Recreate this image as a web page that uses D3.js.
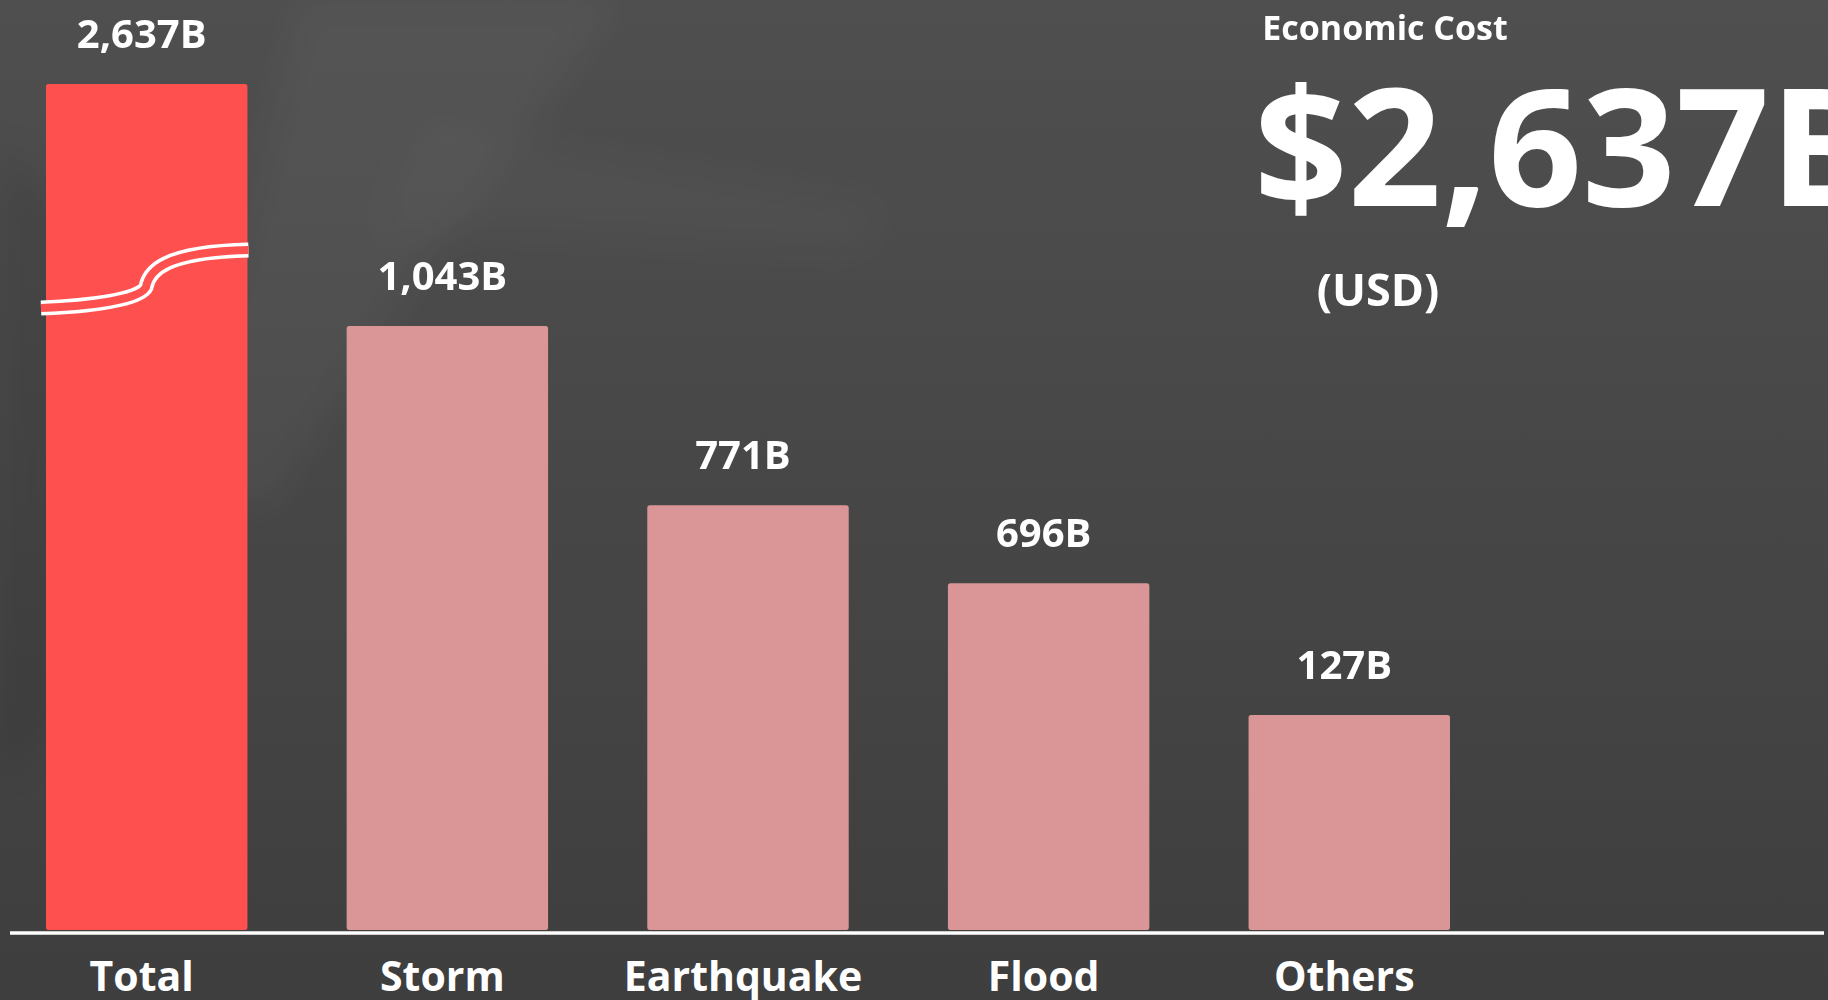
<!DOCTYPE html>
<html>
<head>
<meta charset="utf-8">
<script src="https://cdn.jsdelivr.net/npm/d3@7"></script>
<style>
  html, body { margin: 0; padding: 0; background: #444; overflow: hidden; }
  svg { display: block; }
  text { font-family: "Open Sans", "Noto Sans", sans-serif; fill: #ffffff; }
</style>
</head>
<body>
<svg id="chart" width="1828" height="1000"></svg>
<script>
// ---- data ----
const categories = ["Total", "Storm", "Earthquake", "Flood", "Others"];
const values = [2637, 1043, 771, 696, 127];            // billion USD (label values)
const barLengths = [100, 71.4, 50.2, 41.0, 25.4];      // drawn bar length, % of axis height (Total bar is broken)
const titleText = "Economic Cost";
const unitText = "(USD)";
const headlineValue = values[0];

// ---- layout ----
const W = 1828, H = 1000;
const svg = d3.select("#chart");

// background
const defs = svg.append("defs");
const bg = defs.append("linearGradient").attr("id", "bg").attr("x1", 0).attr("y1", 0).attr("x2", 0).attr("y2", 1);
bg.append("stop").attr("offset", "0%").attr("stop-color", "#4f4f4f");
bg.append("stop").attr("offset", "100%").attr("stop-color", "#3e3e3e");
defs.append("filter").attr("id", "blur").append("feGaussianBlur").attr("stdDeviation", 18);

svg.append("rect").attr("width", W).attr("height", H).attr("fill", "url(#bg)");
const deco = svg.append("g").attr("filter", "url(#blur)");
deco.append("path").attr("d", "M300,0 L620,0 L430,260 L260,520 L190,430 Z").attr("fill", "#ffffff").attr("opacity", 0.035);
deco.append("path").attr("d", "M0,140 L70,220 L55,720 L0,780 Z").attr("fill", "#000000").attr("opacity", 0.08);
deco.append("path").attr("d", "M420,120 L900,200 L860,260 L380,230 Z").attr("fill", "#ffffff").attr("opacity", 0.025);

// scales
const x = d3.scaleBand().domain(categories).range([46, 1450]).paddingInner(0.33).paddingOuter(0);
const y = d3.scaleLinear().domain([0, 100]).range([930, 84]);

const fmt = d3.format(",");
const colors = categories.map((c, i) => i === 0 ? "#ff5050" : "#da9696");

// bars
const bars = svg.append("g");
bars.selectAll("rect")
  .data(categories)
  .join("rect")
  .attr("x", d => x(d))
  .attr("y", (d, i) => y(barLengths[i]))
  .attr("width", x.bandwidth())
  .attr("height", (d, i) => y(0) - y(barLengths[i]))
  .attr("rx", 2.5)
  .attr("fill", (d, i) => colors[i]);

// break marker on Total bar
const bx = x(categories[0]), bw = x.bandwidth(), bt = y(barLengths[0]);
const breakPath = `M${bx - 5},${bt + 224} C${bx + 42},${bt + 222} ${bx + 94},${bt + 216} ${bx + 100},${bt + 203} C${bx + 103},${bt + 187} ${bx + 118},${bt + 168} ${bx + bw + 1},${bt + 166}`;
svg.append("path").attr("d", breakPath).attr("fill", "none").attr("stroke", "#ffffff").attr("stroke-width", 15);
svg.append("path").attr("d", breakPath).attr("fill", "none").attr("stroke", colors[0]).attr("stroke-width", 8);

// value labels
svg.append("g").selectAll("text")
  .data(categories)
  .join("text")
  .attr("x", d => x(d) + x.bandwidth() / 2 - 5)
  .attr("y", (d, i) => y(barLengths[i]) - 36)
  .attr("text-anchor", "middle")
  .attr("font-size", 40)
  .attr("font-weight", 700)
  .text((d, i) => fmt(values[i]) + "B");

// baseline axis
const axis = svg.append("g").attr("transform", "translate(0,933)")
  .call(d3.axisBottom(x).tickSize(0).tickPadding(58));
axis.select(".domain").remove();
axis.append("line").attr("x1", 10).attr("x2", 1824).attr("y1", 0).attr("y2", 0)
  .attr("stroke", "#ffffff").attr("stroke-width", 3.5);
axis.selectAll(".tick text")
  .attr("x", -5)
  .attr("dy", 0)
  .attr("y", 58)
  .attr("fill", "#ffffff")
  .attr("font-family", "Open Sans, Noto Sans, sans-serif")
  .attr("font-size", 41)
  .attr("font-weight", 700);

// headline panel
svg.append("text").attr("x", 1385).attr("y", 40).attr("text-anchor", "middle")
  .attr("font-size", 34).attr("font-weight", 700).text(titleText);
svg.append("text").attr("x", 1254).attr("y", 206).attr("text-anchor", "start")
  .attr("font-size", 164).attr("font-weight", 700).text("$" + fmt(headlineValue) + "B");
svg.append("text").attr("x", 1378).attr("y", 306).attr("text-anchor", "middle")
  .attr("font-size", 45).attr("font-weight", 700).text(unitText);
</script>
</body>
</html>
